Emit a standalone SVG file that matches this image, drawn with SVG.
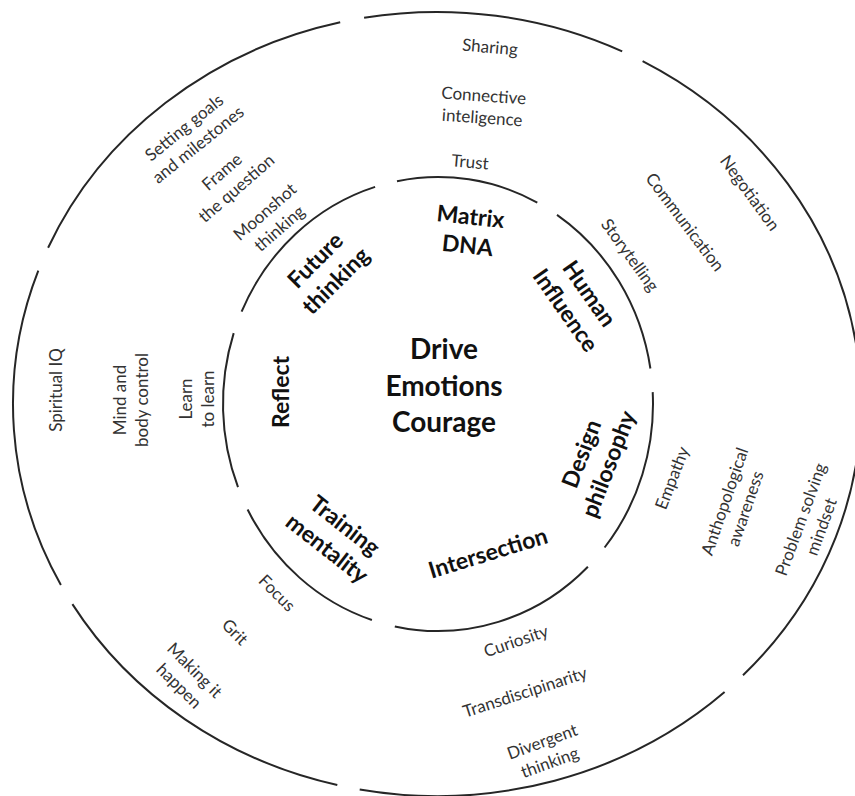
<svg xmlns="http://www.w3.org/2000/svg" width="855" height="796" viewBox="0 0 855 796">
<style>
.ring{fill:none;stroke:#262626;stroke-width:2}
text{font-family:Lato,"Open Sans","Liberation Sans",sans-serif;text-anchor:middle}
.c{font-weight:700;font-size:28px;fill:#111}
.m{font-weight:700;font-size:23px;fill:#111}
.s{font-weight:400;font-size:17px;fill:#333}
</style>
<rect width="855" height="796" fill="#fff"/>
<g id="rings">
<path class="ring" d="M241.6,311.7 A215,227 0 0 1 375.1,186.9"/>
<path class="ring" d="M397.0,181.2 A215,227 0 0 1 537.3,202.6"/>
<path class="ring" d="M557.0,214.9 A215,227 0 0 1 650.4,368.5"/>
<path class="ring" d="M652.7,392.1 A215,227 0 0 1 604.6,547.5"/>
<path class="ring" d="M587.9,566.7 A215,227 0 0 1 394.8,626.4"/>
<path class="ring" d="M371.9,620.0 A215,227 0 0 1 247.6,509.5"/>
<path class="ring" d="M238.0,487.2 A215,227 0 0 1 233.7,333.1"/>
<path class="ring" d="M60.9,585.0 A424,392 0 0 1 38.3,270.6"/>
<path class="ring" d="M48.1,247.7 A424,392 0 0 1 340.2,22.3"/>
<path class="ring" d="M364.1,17.8 A424,392 0 0 1 622.2,51.4"/>
<path class="ring" d="M642.6,61.2 A424,392 0 0 1 857.4,352.8"/>
<path class="ring" d="M860.0,376.6 A424,392 0 0 1 743.0,675.3"/>
<path class="ring" d="M724.6,692.1 A424,392 0 0 1 359.7,789.5"/>
<path class="ring" d="M337.3,785.0 A424,392 0 0 1 72.4,604.1"/>
</g>
<g id="core">
<text class="c" x="444" y="359">Drive</text>
<text class="c" x="444" y="396">Emotions</text>
<text class="c" x="444" y="432">Courage</text>
</g>
<g id="matrix-dna" transform="translate(469,231) rotate(6)"><text class="m" y="-6.5">Matrix</text><text class="m" y="22.5">DNA</text></g>
<g id="human-influence" transform="translate(577.5,302) rotate(55)"><text class="m" y="-6.5">Human</text><text class="m" y="22.5">Influence</text></g>
<g id="design-philosophy" transform="translate(595,459) rotate(-69)"><text class="m" y="-6.5">Design</text><text class="m" y="22.5">philosophy</text></g>
<g id="intersection" transform="translate(488,553) rotate(-17)"><text class="m" y="8">Intersection</text></g>
<g id="training-mentality" transform="translate(336,537) rotate(38)"><text class="m" y="-6.5">Training</text><text class="m" y="22.5">mentality</text></g>
<g id="reflect" transform="translate(281,392) rotate(-90)"><text class="m" y="8">Reflect</text></g>
<g id="future-thinking" transform="translate(325.5,270.5) rotate(-45)"><text class="m" y="-6.5">Future</text><text class="m" y="22.5">thinking</text></g>
<g id="sharing" transform="translate(490,47) rotate(5)"><text class="s" y="6">Sharing</text></g>
<g id="connective-inteligence" transform="translate(483,106.5) rotate(4)"><text class="s" y="-5">Connective</text><text class="s" y="17">inteligence</text></g>
<g id="trust" transform="translate(470,162) rotate(5)"><text class="s" y="6">Trust</text></g>
<g id="setting-goals" transform="translate(191,136) rotate(-39)"><text class="s" y="-5">Setting goals</text><text class="s" y="17">and milestones</text></g>
<g id="frame-question" transform="translate(229,180) rotate(-41)"><text class="s" y="-5">Frame</text><text class="s" y="17">the question</text></g>
<g id="moonshot" transform="translate(272,220) rotate(-41)"><text class="s" y="-5">Moonshot</text><text class="s" y="17">thinking</text></g>
<g id="storytelling" transform="translate(630,255) rotate(54)"><text class="s" y="6">Storytelling</text></g>
<g id="communication" transform="translate(685,222) rotate(53)"><text class="s" y="6">Communication</text></g>
<g id="negotiation" transform="translate(750,193) rotate(54)"><text class="s" y="6">Negotiation</text></g>
<g id="empathy" transform="translate(672,478) rotate(-69)"><text class="s" y="6">Empathy</text></g>
<g id="anthopological" transform="translate(735,505) rotate(-71)"><text class="s" y="-5">Anthopological</text><text class="s" y="17">awareness</text></g>
<g id="problem-solving" transform="translate(811,523) rotate(-70)"><text class="s" y="-5">Problem solving</text><text class="s" y="17">mindset</text></g>
<g id="curiosity" transform="translate(516,641) rotate(-19)"><text class="s" y="6">Curiosity</text></g>
<g id="transdiscipinarity" transform="translate(525,692) rotate(-18)"><text class="s" y="6">Transdiscipinarity</text></g>
<g id="divergent" transform="translate(546,752) rotate(-20)"><text class="s" y="-5">Divergent</text><text class="s" y="17">thinking</text></g>
<g id="focus" transform="translate(277,593) rotate(45)"><text class="s" y="6">Focus</text></g>
<g id="grit" transform="translate(235,632) rotate(45)"><text class="s" y="6">Grit</text></g>
<g id="making-it-happen" transform="translate(187,678) rotate(45)"><text class="s" y="-5">Making it</text><text class="s" y="17">happen</text></g>
<g id="spiritual-iq" transform="translate(56,390) rotate(-90)"><text class="s" y="6">Spiritual IQ</text></g>
<g id="mind-body" transform="translate(131,400) rotate(-90)"><text class="s" y="-5">Mind and</text><text class="s" y="17">body control</text></g>
<g id="learn-to-learn" transform="translate(197,399) rotate(-90)"><text class="s" y="-5">Learn</text><text class="s" y="17">to learn</text></g>
</svg>
